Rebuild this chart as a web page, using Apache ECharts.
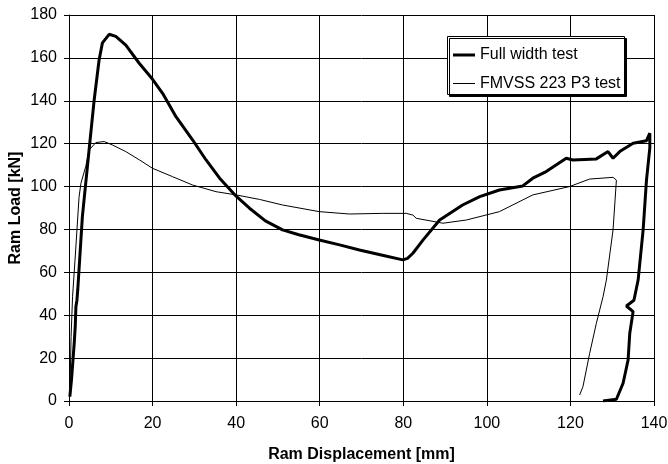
<!DOCTYPE html>
<html>
<head>
<meta charset="utf-8">
<script src="https://cdn.jsdelivr.net/npm/echarts@6/dist/echarts.min.js"></script>
<style>html,body{margin:0;padding:0;background:#fff}#c{width:668px;height:464px}</style>
</head>
<body>
<div id="c"></div>
<script>
const xTicks = [0, 20, 40, 60, 80, 100, 120, 140];
const yTicks = [0, 20, 40, 60, 80, 100, 120, 140, 160, 180];
const seriesNames = ['Full width test', 'FMVSS 223 P3 test'];
const fullWidth = [[0.2,2],[0.6,10],[1.25,27],[1.5,35],[1.65,44],[1.9,47],[2.1,52],[3.2,86],[4.8,117],[6,140],[7.2,159],[8,167],[9.6,171],[11.2,170],[13.6,166],[16.8,157.5],[20,150],[22.4,143.5],[25.6,132.6],[29.6,121.7],[32.8,112.4],[36,104],[40,95.5],[43.2,89.9],[47,84],[51.1,79.8],[55,77.5],[59.9,75.1],[65,72.7],[69.5,70.4],[75,68],[79.9,65.8],[81,66.5],[82.3,68.9],[84.7,75],[88.7,84.4],[94.2,91.4],[98.3,95.3],[103,98.4],[108.6,100.3],[111,103.9],[114.2,107],[119,113.2],[120.6,112.4],[126.2,112.9],[129,116.3],[130.2,113.2],[131.8,116.3],[135,120.2],[138.2,121.4],[139,124.9],[139,118],[138.2,103],[137.4,79.8],[136.2,56.4],[135.2,47],[133.4,44.3],[135,41.7],[134.2,31.6],[133.8,19.1],[132.6,8.3],[131,0.8],[127.8,0]];
const fmvss = [[0.2,2],[0.5,30],[0.85,48.6],[1.6,70.4],[2.4,95],[2.85,101.5],[4,109.3],[4.8,117],[6.4,120.5],[8.4,121],[10.4,119.4],[13.6,116.3],[16.8,112.5],[20,108.5],[24.8,104.6],[29.6,100.7],[35.2,97.6],[40,96.1],[45.6,94],[51.1,91.4],[59.9,88.3],[67.1,87.2],[75.1,87.5],[80.7,87.5],[82.3,86.7],[83.1,85.2],[89.5,82.9],[95.1,84.4],[103,88.3],[111,96.1],[119.8,100],[124.6,103.5],[130.2,104.3],[131,103],[130.2,79.8],[128.6,56.4],[127.8,48.6],[126.2,36.2],[124.6,22.2],[123,6.7],[122.2,2.8]];

const font = 'Liberation Sans, Arial, sans-serif';
const legendText = {fontFamily: font, fontSize: 16, color: '#000'};
const chart = echarts.init(document.getElementById('c'));
chart.setOption({
  animation: false,
  backgroundColor: '#fff',
  grid: {left: 69, right: 14, top: 15, bottom: 63, containLabel: false, outerBoundsMode: 'none'},
  graphic: [{
    type: 'rect', left: 447, top: 36, z: 3,
    shape: {width: 177, height: 58},
    style: {fill: '#fff', stroke: '#000', lineWidth: 1, shadowColor: '#000', shadowBlur: 0, shadowOffsetX: 2, shadowOffsetY: 2}
  }],
  legend: [{
    orient: 'vertical', left: 453, top: 47, padding: 0, z: 5,
    itemWidth: 22, itemHeight: 3, icon: 'rect',
    textStyle: legendText, data: [seriesNames[0]]
  }, {
    orient: 'vertical', left: 453, top: 75.5, padding: 0, z: 5,
    itemWidth: 22, itemHeight: 1, icon: 'rect',
    textStyle: legendText, data: [seriesNames[1]]
  }],
  xAxis: {
    type: 'value', min: 0, max: 140, interval: 20,
    name: 'Ram Displacement [mm]', nameLocation: 'middle', nameGap: 46,
    nameTextStyle: {fontFamily: font, fontSize: 16, fontWeight: 'bold', color: '#000'},
    axisLine: {show: true, onZero: false, lineStyle: {color: '#000', width: 1}},
    axisTick: {show: true, length: 5, lineStyle: {color: '#000'}},
    axisLabel: {fontFamily: font, fontSize: 16, color: '#000', margin: 15},
    splitLine: {show: true, lineStyle: {color: '#000', width: 1}}
  },
  yAxis: {
    type: 'value', min: 0, max: 180, interval: 20,
    name: 'Ram Load [kN]', nameLocation: 'middle', nameGap: 45, nameMoveOverlap: false,
    nameTextStyle: {fontFamily: font, fontSize: 16, fontWeight: 'bold', color: '#000'},
    axisLine: {show: true, onZero: false, lineStyle: {color: '#000', width: 1}},
    axisTick: {show: true, length: 5, lineStyle: {color: '#000'}},
    axisLabel: {fontFamily: font, fontSize: 16, color: '#000', margin: 12},
    splitLine: {show: true, lineStyle: {color: '#000', width: 1}}
  },
  series: [
    {name: seriesNames[0], type: 'line', data: fullWidth, showSymbol: false, symbol: 'none',
     lineStyle: {color: '#000', width: 3}, itemStyle: {color: '#000'}},
    {name: seriesNames[1], type: 'line', data: fmvss, showSymbol: false, symbol: 'none',
     lineStyle: {color: '#000', width: 1}, itemStyle: {color: '#000'}}
  ]
});
</script>
</body>
</html>
